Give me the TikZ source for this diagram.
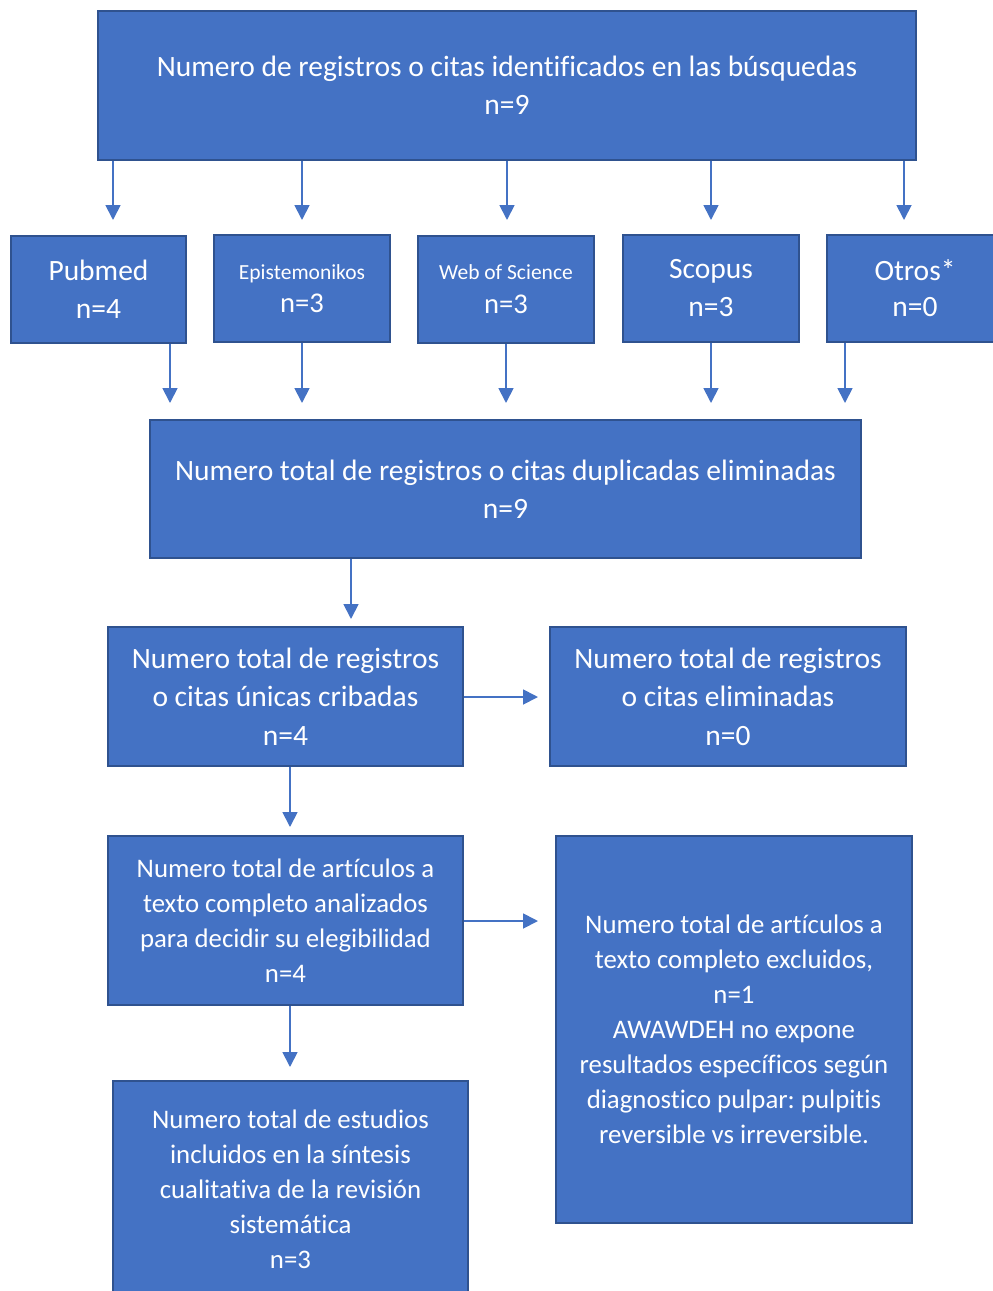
\documentclass[tikz,border=0pt]{standalone}
\usepackage{fontspec}
\setmainfont{Carlito}[Ligatures=NoCommon]
\frenchspacing
\usetikzlibrary{arrows.meta}
\definecolor{boxfill}{HTML}{4472C4}
\definecolor{boxline}{HTML}{2F528F}
\definecolor{arrcol}{HTML}{4472C4}
\tikzset{
  box/.style={draw=boxline, line width=2pt, fill=boxfill, text=white, inner sep=0pt, align=center, anchor=center},
  arr/.style={draw=arrcol, line width=1.8pt, -{Triangle[width=15pt,length=15pt]}},
  fbig/.style={font=\fontsize{29.5}{38.5}\selectfont},
  flow/.style={font=\fontsize{26.8}{35}\selectfont}
}
\begin{document}
\begin{tikzpicture}[x=1pt,y=-1pt]
\useasboundingbox (0,0) rectangle (993,1291);
\clip (0,0) rectangle (993,1291);
% boxes
\node[box, fbig, minimum width=818pt, minimum height=149pt] (top) at (507,85.5)
  {Numero de registros o citas identificados en las búsquedas\\n=9};
\node[box, font=\fontsize{29.5}{38}\selectfont, minimum width=175pt, minimum height=107pt] (pub) at (98.5,289.5)
  {Pubmed\\n=4};
\node[box, font=\fontsize{21.5}{33}\selectfont, minimum width=176pt, minimum height=107pt] (epi) at (302,288.5)
  {Epistemonikos\\\fontsize{28.6}{33}\selectfont n=3};
\node[box, font=\fontsize{21.5}{34}\selectfont, minimum width=176pt, minimum height=107pt] (wos) at (506,289.5)
  {Web of Science\\\fontsize{28.6}{34}\selectfont n=3};
\node[box, font=\fontsize{29.5}{38}\selectfont, minimum width=176pt, minimum height=107pt] (sco) at (711,288.5)
  {Scopus\\n=3};
\node[box, font=\fontsize{29.5}{36}\selectfont, minimum width=176pt, minimum height=107pt] (otr) at (915,288.5)
  {Otros*\\n=0};
\node[box, fbig, minimum width=711pt, minimum height=138pt] (dup) at (505.5,489)
  {Numero total de registros o citas duplicadas eliminadas\\n=9};
\node[box, fbig, minimum width=355pt, minimum height=139pt] (crib) at (285.5,696.5)
  {Numero total de registros\\o citas únicas cribadas\\n=4};
\node[box, fbig, minimum width=356pt, minimum height=139pt] (elim) at (728,696.5)
  {Numero total de registros\\o citas eliminadas\\n=0};
\node[box, flow, minimum width=355pt, minimum height=169pt] (anal) at (285.5,920.5)
  {Numero total de artículos a\\texto completo analizados\\para decidir su elegibilidad\\n=4};
\node[box, flow, minimum width=356pt, minimum height=387pt] (excl) at (734,1029.5)
  {Numero total de artículos a\\texto completo excluidos,\\n=1\\AWAWDEH no expone\\resultados específicos según\\diagnostico pulpar: pulpitis\\reversible vs irreversible.};
\node[box, flow, minimum width=355pt, minimum height=216pt] (est) at (290.5,1189)
  {Numero total de estudios\\incluidos en la síntesis\\cualitativa de la revisión\\sistemática\\n=3};
% free arrow ends
\coordinate (t1) at (113,220);
\coordinate (t2) at (302,220);
\coordinate (t3) at (507,220);
\coordinate (t4) at (711,220);
\coordinate (t5) at (904,220);
\coordinate (s1) at (170,403);
\coordinate (s2) at (302,403);
\coordinate (s3) at (506,403);
\coordinate (s4) at (711,403);
\coordinate (s5) at (845,403);
\coordinate (d1) at (351,619);
\coordinate (c1) at (538,697);
\coordinate (c2) at (290,827);
\coordinate (a1) at (538,921);
\coordinate (a2) at (290,1067);
% arrows
\foreach \c in {t1,t2,t3,t4,t5} \draw[arr] (\c |- top.south) -- (\c);
\draw[arr] (s1 |- pub.south) -- (s1);
\draw[arr] (s2 |- epi.south) -- (s2);
\draw[arr] (s3 |- wos.south) -- (s3);
\draw[arr] (s4 |- sco.south) -- (s4);
\draw[arr] (s5 |- otr.south) -- (s5);
\draw[arr] (d1 |- dup.south) -- (d1);
\draw[arr] (c1 -| crib.east) -- (c1);
\draw[arr] (c2 |- crib.south) -- (c2);
\draw[arr] (a1 -| anal.east) -- (a1);
\draw[arr] (a2 |- anal.south) -- (a2);
\end{tikzpicture}
\end{document}
